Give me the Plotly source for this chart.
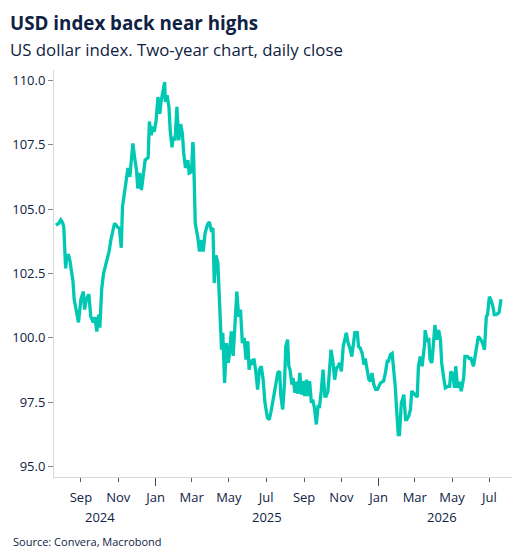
import plotly.graph_objects as go

# ---- Data ----
dates = [
    "2024-07-22", "2024-07-27", "2024-07-30", "2024-08-02", "2024-08-04", "2024-08-07", "2024-08-09",
    "2024-08-12", "2024-08-14", "2024-08-17", "2024-08-19", "2024-08-21", "2024-08-24", "2024-08-28",
    "2024-09-01", "2024-09-05", "2024-09-07", "2024-09-10", "2024-09-14", "2024-09-17", "2024-09-21",
    "2024-09-24", "2024-09-27", "2024-09-30", "2024-10-02", "2024-10-05", "2024-10-08", "2024-10-13",
    "2024-10-17", "2024-10-20", "2024-10-24", "2024-10-26", "2024-10-31", "2024-11-03", "2024-11-06",
    "2024-11-08", "2024-11-11", "2024-11-14", "2024-11-17", "2024-11-20", "2024-11-22", "2024-11-25",
    "2024-11-28", "2024-12-01", "2024-12-03", "2024-12-06", "2024-12-09", "2024-12-12", "2024-12-15",
    "2024-12-20", "2024-12-22", "2024-12-25", "2024-12-28", "2024-12-30", "2025-01-02", "2025-01-05",
    "2025-01-08", "2025-01-10", "2025-01-13", "2025-01-16", "2025-01-17", "2025-01-20", "2025-01-23",
    "2025-01-25", "2025-01-28", "2025-01-30", "2025-02-02", "2025-02-05", "2025-02-08", "2025-02-11",
    "2025-02-14", "2025-02-16", "2025-02-19", "2025-02-23", "2025-02-25", "2025-03-01", "2025-03-03",
    "2025-03-04", "2025-03-07", "2025-03-11", "2025-03-14", "2025-03-17", "2025-03-20", "2025-03-23",
    "2025-03-27", "2025-03-30", "2025-04-02", "2025-04-05", "2025-04-07", "2025-04-10", "2025-04-13",
    "2025-04-15", "2025-04-17", "2025-04-19", "2025-04-21", "2025-04-24", "2025-04-27", "2025-04-30",
    "2025-05-02", "2025-05-05", "2025-05-08", "2025-05-11", "2025-05-14", "2025-05-17", "2025-05-20",
    "2025-05-23", "2025-05-26", "2025-05-29", "2025-06-01", "2025-06-03", "2025-06-06", "2025-06-09",
    "2025-06-11", "2025-06-14", "2025-06-17", "2025-06-20", "2025-06-23", "2025-06-26", "2025-06-29",
    "2025-07-03", "2025-07-06", "2025-07-09", "2025-07-12", "2025-07-17", "2025-07-20", "2025-07-23",
    "2025-07-25", "2025-07-28", "2025-07-31", "2025-08-02", "2025-08-05", "2025-08-07", "2025-08-09",
    "2025-08-12", "2025-08-14", "2025-08-17", "2025-08-20", "2025-08-22", "2025-08-25", "2025-08-28",
    "2025-08-30", "2025-09-02", "2025-09-05", "2025-09-07", "2025-09-10", "2025-09-13", "2025-09-15",
    "2025-09-18", "2025-09-21", "2025-09-24", "2025-09-26", "2025-09-29", "2025-10-02", "2025-10-05",
    "2025-10-07", "2025-10-10", "2025-10-13", "2025-10-15", "2025-10-18", "2025-10-21", "2025-10-24",
    "2025-10-27", "2025-10-29", "2025-11-01", "2025-11-04", "2025-11-07", "2025-11-09", "2025-11-12",
    "2025-11-15", "2025-11-18", "2025-11-20", "2025-11-23", "2025-11-27", "2025-11-29", "2025-12-02",
    "2025-12-05", "2025-12-08", "2025-12-10", "2025-12-13", "2025-12-16", "2025-12-19", "2025-12-21",
    "2025-12-24", "2025-12-27", "2025-12-30", "2026-01-01", "2026-01-04", "2026-01-07", "2026-01-09",
    "2026-01-12", "2026-01-15", "2026-01-17", "2026-01-20", "2026-01-23", "2026-01-26", "2026-01-28",
    "2026-01-31", "2026-02-02", "2026-02-04", "2026-02-07", "2026-02-09", "2026-02-11", "2026-02-14",
    "2026-02-16", "2026-02-19", "2026-02-22", "2026-02-24", "2026-02-27", "2026-03-02", "2026-03-05",
    "2026-03-07", "2026-03-10", "2026-03-13", "2026-03-17", "2026-03-18", "2026-03-21", "2026-03-24",
    "2026-03-26", "2026-03-29", "2026-04-01", "2026-04-03", "2026-04-06", "2026-04-09", "2026-04-12",
    "2026-04-14", "2026-04-17", "2026-04-20", "2026-04-24", "2026-04-27", "2026-04-29", "2026-05-02",
    "2026-05-05", "2026-05-07", "2026-05-10", "2026-05-13", "2026-05-16", "2026-05-20", "2026-05-22",
    "2026-05-26", "2026-05-29", "2026-06-01", "2026-06-05", "2026-06-08", "2026-06-10", "2026-06-13",
    "2026-06-17", "2026-06-20", "2026-06-23", "2026-06-26", "2026-06-28", "2026-07-01", "2026-07-04",
    "2026-07-07", "2026-07-09", "2026-07-12", "2026-07-15", "2026-07-17", "2026-07-20",
]
usd_index = [
    104.38, 104.45, 104.58, 104.48, 104.30, 102.70, 103.20,
    103.20, 103.00, 102.55, 102.20, 101.50, 101.10, 100.60,
    101.50, 101.80, 101.10, 101.50, 101.70, 100.85, 100.60,
    100.80, 100.25, 100.90, 100.40, 101.90, 102.50, 102.95,
    103.35, 103.80, 104.20, 104.45, 104.30, 104.25, 103.50,
    105.10, 105.60, 106.10, 106.60, 106.25, 106.70, 107.55,
    106.97, 106.50, 105.80, 106.40, 105.74, 106.26, 106.90,
    107.00, 108.40, 107.87, 108.20, 108.00, 108.45, 109.35,
    108.70, 109.16, 109.50, 109.93, 109.16, 109.42, 108.97,
    108.06, 107.40, 107.80, 107.67, 108.97, 107.67, 108.30,
    107.93, 107.20, 106.60, 106.90, 106.40, 106.45, 107.60,
    107.40, 104.45, 103.93, 103.35, 103.80, 103.35, 104.06,
    104.40, 104.50, 104.20, 104.26, 102.13, 103.20, 102.90,
    101.60, 100.20, 99.54, 100.20, 98.25, 99.80, 99.03,
    99.40, 100.25, 99.30, 100.60, 101.80, 100.83, 101.10,
    99.80, 100.00, 99.16, 99.87, 98.77, 99.16, 98.96,
    99.20, 98.70, 97.99, 98.77, 98.90, 98.38, 97.48,
    96.90, 96.83, 97.15, 97.54, 98.19, 98.64, 98.70,
    97.74, 97.22, 98.25, 99.67, 99.93, 98.90, 98.77,
    98.19, 98.45, 97.87, 98.30, 97.83, 98.64, 97.80,
    98.32, 97.74, 98.38, 97.74, 98.32, 97.48, 97.60,
    97.28, 96.64, 97.40, 97.28, 97.93, 98.77, 97.74,
    97.74, 97.93, 98.96, 99.54, 99.10, 98.38, 98.83,
    98.90, 99.03, 98.70, 99.67, 100.06, 100.20, 99.80,
    99.60, 99.28, 99.67, 100.20, 100.20, 99.67, 99.60,
    99.40, 98.96, 99.20, 98.77, 98.38, 98.32, 98.64,
    98.19, 98.00, 98.00, 98.13, 98.25, 98.30, 98.32,
    98.64, 99.10, 99.10, 99.35, 99.40, 98.77, 98.13,
    96.96, 96.25, 96.25, 97.48, 97.60, 97.80, 96.83,
    96.83, 96.96, 97.22, 97.93, 97.85, 97.74, 97.70,
    98.90, 99.28, 98.90, 99.74, 100.30, 99.90, 99.93,
    99.16, 99.03, 100.20, 100.50, 99.93, 100.30, 99.93,
    99.03, 98.50, 98.06, 98.12, 98.12, 98.70, 98.60,
    98.06, 98.90, 98.06, 98.30, 97.93, 98.45, 99.28,
    99.28, 99.20, 99.20, 98.90, 99.28, 99.54, 100.06,
    99.93, 99.80, 99.54, 100.83, 100.90, 101.60, 101.45,
    101.20, 100.90, 100.90, 100.95, 101.00, 101.50,
]

month_tick_dates = ["2024-09-01", "2024-11-01", "2025-01-01", "2025-03-01", "2025-05-01",
                    "2025-07-01", "2025-09-01", "2025-11-01", "2026-01-01", "2026-03-01",
                    "2026-05-01", "2026-07-01"]
month_tick_labels = ["Sep", "Nov", "Jan", "Mar", "May", "Jul", "Sep", "Nov", "Jan", "Mar", "May", "Jul"]
year_tick_dates = ["2025-01-01", "2026-01-01"]
year_labels = ["2024", "2025", "2026"]
year_label_dates = ["2024-10-02", "2025-07-02", "2026-04-15"]
y_tick_vals = [95.0, 97.5, 100.0, 102.5, 105.0, 107.5, 110.0]

NAVY = "#0f2243"
TEAL = "#00c8b2"
FONT = "Open Sans"

fig = go.Figure()
fig.add_trace(go.Scatter(x=dates, y=usd_index, mode="lines",
                         line=dict(color=TEAL, width=3.3), showlegend=False,
                         hoverinfo="x+y"))
# invisible trace to activate the second x axis (long year ticks)
fig.add_trace(go.Scatter(x=[dates[0]], y=[usd_index[0]], xaxis="x2", mode="lines",
                         line=dict(width=0), showlegend=False, hoverinfo="skip"))

x_range = ["2024-07-19", "2026-08-07"]

fig.update_layout(
    width=528, height=559,
    margin=dict(l=52, r=16, t=70, b=82),
    paper_bgcolor="white", plot_bgcolor="white",
    font=dict(family=FONT, color=NAVY, size=13),
    xaxis=dict(
        type="date", range=x_range,
        tickvals=month_tick_dates, ticktext=month_tick_labels,
        ticks="outside", ticklen=4, tickcolor="#555555", tickwidth=1,
        ticklabelstandoff=4,
        showline=True, linecolor="#d9d9d9", linewidth=1,
        showgrid=False, zeroline=False,
        tickfont=dict(size=13, color=NAVY, family=FONT),
    ),
    xaxis2=dict(
        type="date", range=x_range, overlaying="x", side="bottom",
        tickvals=year_tick_dates, ticktext=["", ""],
        ticks="outside", ticklen=8, tickcolor="#444444", tickwidth=1,
        showline=False, showgrid=False, zeroline=False, showticklabels=True,
    ),
    yaxis=dict(
        range=[94.6, 110.4], tickvals=y_tick_vals, tickformat=".1f",
        ticks="outside", ticklen=5, tickcolor="#888888",
        showline=True, linecolor="#d9d9d9", linewidth=1,
        showgrid=False, zeroline=False,
        tickfont=dict(size=13, color=NAVY, family=FONT),
    ),
)

annotations = [
    dict(text="<b>USD index back near highs</b>", xref="paper", yref="paper",
         x=-0.1, y=1.0, yshift=47, xanchor="left", yanchor="middle", showarrow=False,
         font=dict(size=18.8, color=NAVY, family=FONT)),
    dict(text="US dollar index. Two-year chart, daily close", xref="paper", yref="paper",
         x=-0.1, y=1.0, yshift=21, xanchor="left", yanchor="middle", showarrow=False,
         font=dict(size=16.8, color=NAVY, family=FONT)),
    dict(text="Source: Convera, Macrobond", xref="paper", yref="paper",
         x=-0.093, y=0.0, yshift=-64, xanchor="left", yanchor="middle", showarrow=False,
         font=dict(size=11, color=NAVY, family=FONT)),
]
for lbl, d in zip(year_labels, year_label_dates):
    annotations.append(dict(text=lbl, xref="x", yref="paper", x=d, y=0.0, yshift=-40,
                            xanchor="center", yanchor="middle", showarrow=False,
                            font=dict(size=13, color=NAVY, family=FONT)))
fig.update_layout(annotations=annotations)

fig.write_html("out.html")
